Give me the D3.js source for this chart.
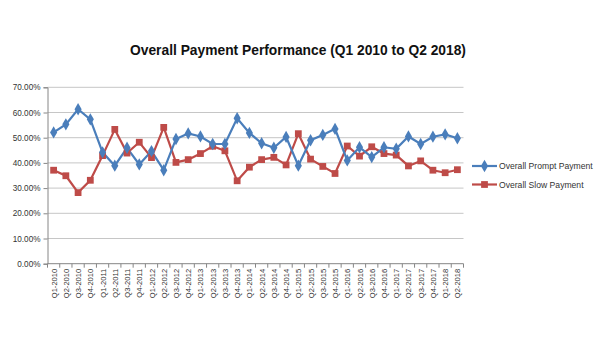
<!DOCTYPE html>
<html><head><meta charset="utf-8">
<script src="https://cdn.jsdelivr.net/npm/d3@7"></script>
<style>body{margin:0;background:#fff;} svg{display:block;font-family:"Liberation Sans",Arial,sans-serif;}</style>
</head><body>
<svg id="c" width="600" height="360"></svg>
<script>
const quarters = ["Q1-2010","Q2-2010","Q3-2010","Q4-2010","Q1-2011","Q2-2011","Q3-2011","Q4-2011","Q1-2012","Q2-2012","Q3-2012","Q4-2012","Q1-2013","Q2-2013","Q3-2013","Q4-2013","Q1-2014","Q2-2014","Q3-2014","Q4-2014","Q1-2015","Q2-2015","Q3-2015","Q4-2015","Q1-2016","Q2-2016","Q3-2016","Q4-2016","Q1-2017","Q2-2017","Q3-2017","Q4-2017","Q1-2018","Q2-2018"];
const prompt = [52.1,55.3,61.3,57.3,44.2,38.9,46.0,39.4,44.7,37.1,49.5,51.7,50.5,47.5,47.5,57.7,51.9,47.8,46.0,50.3,38.9,49.0,51.1,53.5,41.0,46.2,42.3,46.2,45.6,50.5,47.5,50.4,51.3,49.8];
const slow = [37.1,34.9,28.2,33.1,42.9,53.3,43.9,48.2,42.1,54.1,40.2,41.3,43.7,46.6,44.8,32.9,38.3,41.3,42.2,39.2,51.6,41.5,38.6,35.8,46.7,42.7,46.4,43.7,43.1,38.8,40.8,37.1,36.1,37.3];
const yTicks = [0,10,20,30,40,50,60,70];
const seriesNames = ["Overall Prompt Payment","Overall Slow Payment"];
const title = "Overall Payment Performance  (Q1 2010 to Q2 2018)";

const svg = d3.select("#c");
const L = 47.5, R = 463.5, T = 87.3, B = 263.7;
const x = d3.scaleBand().domain(quarters).range([L, R]);
const y = d3.scaleLinear().domain([0, 70]).range([B, T]);
const blue = "#4a7ebb", red = "#be4b48";

svg.append("text").attr("x", 298).attr("y", 55).attr("text-anchor","middle")
  .attr("font-size", 13.8).attr("font-weight","bold").attr("fill","#111").text(title);

// gridlines
svg.append("g").selectAll("line").data(yTicks.filter(d=>d>0)).join("line")
  .attr("x1", L).attr("x2", R).attr("y1", d=>y(d)).attr("y2", d=>y(d))
  .attr("stroke", "#c6c6c6").attr("stroke-width", 1);

// y axis
const ya = svg.append("g").attr("transform", `translate(${L},0)`)
  .call(d3.axisLeft(y).tickValues(yTicks).tickSize(4).tickFormat(d => d.toFixed(2) + "%"));
ya.select(".domain").attr("stroke", "#868686");
ya.selectAll(".tick line").attr("stroke", "#868686");
ya.selectAll("text").attr("font-size", 8.2).attr("fill", "#333").attr("font-family", "Liberation Sans, Arial");

// x axis
const xa = svg.append("g").attr("transform", `translate(0,${B})`);
xa.append("line").attr("x1", L).attr("x2", R).attr("stroke", "#868686");
xa.selectAll("line.t").data(quarters.concat(["end"])).join("line").attr("class","t")
  .attr("x1", (d,i)=> L + i*x.step()).attr("x2", (d,i)=> L + i*x.step())
  .attr("y1", 0).attr("y2", 4).attr("stroke", "#868686");
xa.selectAll("text").data(quarters).join("text")
  .attr("transform", d => `translate(${x(d)+x.bandwidth()/2+3},5) rotate(-90)`)
  .attr("text-anchor","end").attr("font-size", 7.6).attr("fill","#333").text(d=>d);

// lines
const line = d3.line().x((d,i)=> x(quarters[i]) + x.bandwidth()/2).y(d=>y(d));
svg.append("path").datum(slow).attr("d", line).attr("fill","none").attr("stroke", red).attr("stroke-width", 2.2);
svg.append("path").datum(prompt).attr("d", line).attr("fill","none").attr("stroke", blue).attr("stroke-width", 2.2);

const sq = d3.symbol().type(d3.symbolSquare).size(46);
const dm = d3.symbol().type(d3.symbolDiamond).size(44);
svg.append("g").selectAll("path").data(slow).join("path")
  .attr("d", sq).attr("transform", (d,i)=>`translate(${x(quarters[i])+x.bandwidth()/2},${y(d)})`).attr("fill", red);
svg.append("g").selectAll("path").data(prompt).join("path")
  .attr("d", dm).attr("transform", (d,i)=>`translate(${x(quarters[i])+x.bandwidth()/2},${y(d)})`).attr("fill", blue);

// legend
const lg = svg.append("g");
[[blue, dm, 166],[red, sq, 184.5]].forEach(([c, s, ly], i) => {
  lg.append("line").attr("x1", 472).attr("x2", 497).attr("y1", ly).attr("y2", ly).attr("stroke", c).attr("stroke-width", 2.2);
  lg.append("path").attr("d", s).attr("transform", `translate(484.5,${ly})`).attr("fill", c);
  lg.append("text").attr("x", 499).attr("y", ly + 3).attr("font-size", 8.6).attr("fill", "#333").text(seriesNames[i]);
});
</script>
</body></html>
